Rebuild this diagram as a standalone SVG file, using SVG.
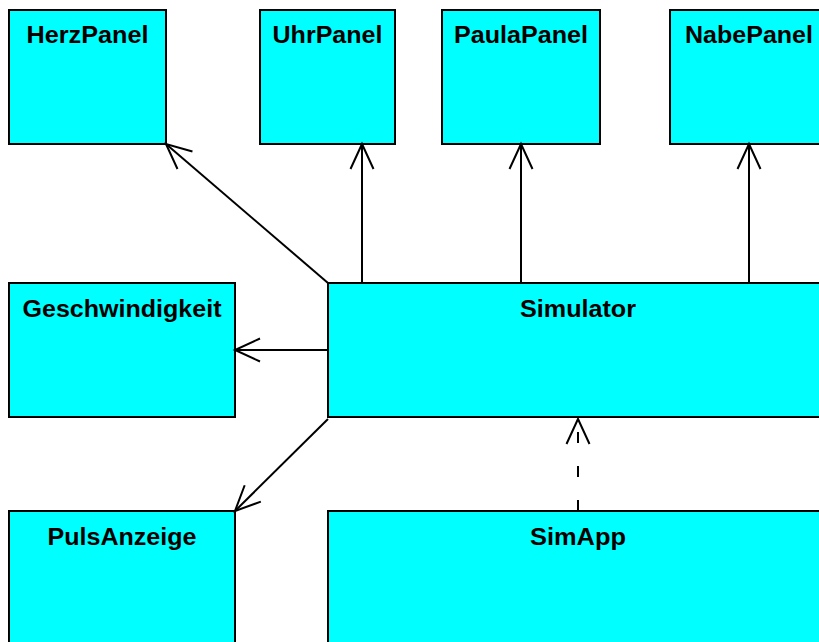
<svg xmlns="http://www.w3.org/2000/svg" width="819" height="642" viewBox="0 0 819 642">
  <style>
    .box { fill: #00ffff; stroke: #000; stroke-width: 2; }
    .label { font-family: "Liberation Sans", Arial, Helvetica, sans-serif; font-weight: bold; font-size: 23px; text-anchor: middle; fill: #000; }
    .edge { fill: none; stroke: #000; stroke-width: 2; marker-end: url(#open); }
    .dashed { stroke-dasharray: 11 23; }
  </style>
  <defs>
    <!-- open V arrowhead, drawn in user units -->
    <marker id="open" markerUnits="userSpaceOnUse" viewBox="-28 -14 30 28" refX="0" refY="0" markerWidth="30" markerHeight="28" orient="auto" overflow="visible">
      <path d="M -25 -11.5 L 0 0 L -25 11.5" fill="none" stroke="#000" stroke-width="2"/>
    </marker>
  </defs>
  <rect width="819" height="642" fill="#fff"/>

  <g id="HerzPanel">
    <rect class="box" x="9" y="10" width="157" height="134"/>
    <text class="label" x="87.5" y="42.5" textLength="122" lengthAdjust="spacingAndGlyphs">HerzPanel</text>
  </g>
  <g id="UhrPanel">
    <rect class="box" x="260" y="10" width="135" height="134"/>
    <text class="label" x="327.5" y="42.5" textLength="110" lengthAdjust="spacingAndGlyphs">UhrPanel</text>
  </g>
  <g id="PaulaPanel">
    <rect class="box" x="442" y="10" width="158" height="134"/>
    <text class="label" x="521" y="42.5" textLength="134" lengthAdjust="spacingAndGlyphs">PaulaPanel</text>
  </g>
  <g id="NabePanel">
    <rect class="box" x="670" y="10" width="158" height="134"/>
    <text class="label" x="749" y="42.5" textLength="128" lengthAdjust="spacingAndGlyphs">NabePanel</text>
  </g>
  <g id="Geschwindigkeit">
    <rect class="box" x="9" y="283" width="226" height="134"/>
    <text class="label" x="122" y="316.5" textLength="199" lengthAdjust="spacingAndGlyphs">Geschwindigkeit</text>
  </g>
  <g id="Simulator">
    <rect class="box" x="328" y="283" width="500" height="134"/>
    <text class="label" x="578" y="316.5" textLength="116" lengthAdjust="spacingAndGlyphs">Simulator</text>
  </g>
  <g id="PulsAnzeige">
    <rect class="box" x="9" y="511" width="226" height="140"/>
    <text class="label" x="122" y="544.5" textLength="149" lengthAdjust="spacingAndGlyphs">PulsAnzeige</text>
  </g>
  <g id="SimApp">
    <rect class="box" x="328" y="511" width="500" height="140"/>
    <text class="label" x="578" y="544.5" textLength="96" lengthAdjust="spacingAndGlyphs">SimApp</text>
  </g>

  <g id="connectors">
    <line class="edge" x1="328" y1="283" x2="166" y2="144"/>
    <line class="edge" x1="362" y1="283" x2="362" y2="144"/>
    <line class="edge" x1="521" y1="283" x2="521" y2="144"/>
    <line class="edge" x1="749" y1="283" x2="749" y2="144"/>
    <line class="edge" x1="328" y1="350" x2="235" y2="350"/>
    <line class="edge" x1="328" y1="419" x2="235" y2="511"/>
    <line class="edge dashed" x1="578" y1="511" x2="578" y2="419"/>
  </g>
</svg>
